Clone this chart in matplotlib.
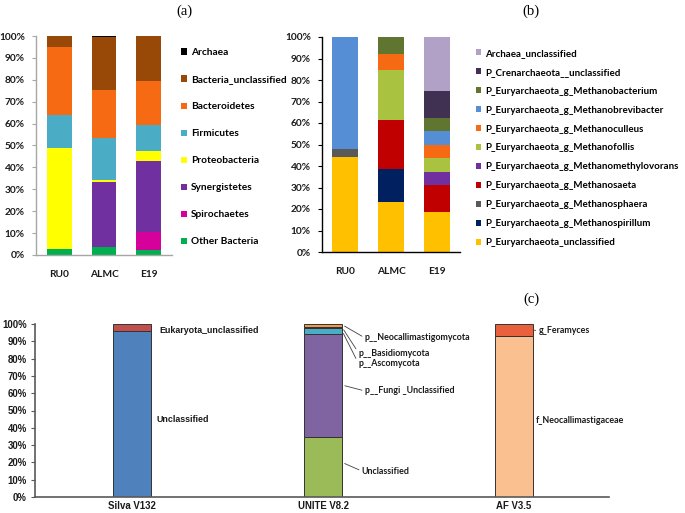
import numpy as np
import matplotlib
matplotlib.use("Agg")
import matplotlib.pyplot as plt
from matplotlib.ticker import FuncFormatter

# ---- panel (a): bacteria ----
samples = ["RU0", "ALMC", "E19"]
bac_names = ["Other Bacteria", "Spirochaetes", "Synergistetes", "Proteobacteria",
             "Firmicutes", "Bacteroidetes", "Bacteria_unclassified", "Archaea"]
bac_colors = ["#00B050", "#D6009A", "#7030A0", "#FFFF00",
              "#4BACC6", "#F56A12", "#984807", "#000000"]
bac_vals = [
    [2.7, 3.5, 2.4],     # Other Bacteria
    [0.0, 0.0, 8.1],     # Spirochaetes
    [0.0, 29.9, 32.2],   # Synergistetes
    [46.1, 0.9, 4.6],    # Proteobacteria
    [15.0, 19.3, 12.1],  # Firmicutes
    [31.0, 21.8, 20.1],  # Bacteroidetes
    [5.2, 24.3, 20.5],   # Bacteria_unclassified
    [0.0, 0.3, 0.0],     # Archaea
]

# ---- panel (b): archaea ----
arc_names = ["P_Euryarchaeota_unclassified", "P_Euryarchaeota_g_Methanospirillum",
             "P_Euryarchaeota_g_Methanosphaera", "P_Euryarchaeota_g_Methanosaeta",
             "P_Euryarchaeota_g_Methanomethylovorans", "P_Euryarchaeota_g_Methanofollis",
             "P_Euryarchaeota_g_Methanoculleus", "P_Euryarchaeota_g_Methanobrevibacter",
             "P_Euryarchaeota_g_Methanobacterium", "P_Crenarchaeota__unclassified",
             "Archaea_unclassified"]
arc_colors = ["#FFC000", "#002060", "#595959", "#C00000", "#7030A0", "#A9C23F",
              "#F56A12", "#558ED5", "#5F7530", "#403152", "#B2A1C7"]
arc_vals = [
    [44.0, 23.1, 18.6],
    [0.0, 15.3, 0.0],
    [3.9, 0.0, 0.0],
    [0.0, 23.2, 12.4],
    [0.0, 0.0, 6.2],
    [0.0, 22.9, 6.4],
    [0.0, 7.6, 6.2],
    [52.1, 0.0, 6.3],
    [0.0, 7.9, 6.2],
    [0.0, 0.0, 12.7],
    [0.0, 0.0, 25.0],
]

# ---- panel (c): eukaryotes / fungi by database ----
dbs = ["Silva V132", "UNITE V8.2", "AF V3.5"]
silva_names = ["Unclassified", "Eukaryota_unclassified"]
silva_vals = [95.8, 4.2]
silva_colors = ["#4F81BD", "#C0504D"]
unite_names = ["Unclassified", "p__Fungi _Unclassified", "p__Ascomycota",
               "p__Basidiomycota", "p__Neocallimastigomycota"]
unite_vals = [34.7, 59.5, 3.5, 0.6, 1.7]
unite_colors = ["#9BBB59", "#8064A2", "#4BACC6", "#1F497D", "#F79646"]
af_names = ["f_Neocallimastigaceae", "g_Feramyces"]
af_vals = [93.2, 6.8]
af_colors = ["#FAC090", "#E8603C"]

W, H = 685, 513
fig = plt.figure(figsize=(W / 100, H / 100), dpi=100)

def box(x0, y0, x1, y1):
    return [x0 / W, 1 - y1 / H, (x1 - x0) / W, (y1 - y0) / H]

ab_font = "Lato"
pct = FuncFormatter(lambda v, p: f"{int(v)}%")


def stacked(ax, vals, colors, width, **kw):
    bottom = np.zeros(len(vals[0]))
    bars = []
    for v, c in zip(vals, colors):
        b = ax.bar(np.arange(len(v)), v, width, bottom=bottom, color=c, **kw)
        bars.append(b)
        bottom += np.array(v)
    return bars


def style_ab(ax, spine_col):
    ax.set_ylim(0, 100)
    ax.set_yticks(np.arange(0, 101, 10))
    ax.yaxis.set_major_formatter(pct)
    for s in ["top", "right"]:
        ax.spines[s].set_visible(False)
    for s in ["left", "bottom"]:
        ax.spines[s].set_color(spine_col)
        ax.spines[s].set_linewidth(1.0)
    ax.tick_params(axis="y", length=3, color=spine_col, pad=5)
    ax.tick_params(axis="x", length=0, pad=11)
    for lab in ax.get_xticklabels() + ax.get_yticklabels():
        lab.set_fontfamily(ab_font)
        lab.set_fontweight("bold")
        lab.set_fontsize(7.3)
        lab.set_color("#1a1a1a")


# panel (a)
ax_a = fig.add_axes(box(36, 36, 172, 255))
bars_a = stacked(ax_a, bac_vals, bac_colors, 0.56)
ax_a.set_xlim(-0.53, 2.53)
ax_a.set_xticks(range(3))
ax_a.set_xticklabels(samples)
style_ab(ax_a, "#A6A6A6")
leg_a = fig.legend([b[0] for b in bars_a][::-1], bac_names[::-1],
                   loc="upper left", bbox_to_anchor=(176 / W, 1 - 43 / H),
                   frameon=False, handlelength=0.55, handleheight=0.55,
                   handletextpad=0.45, labelspacing=1.78, borderpad=0,
                   prop={"family": ab_font, "weight": "bold", "size": 7.3})

# panel (b)
ax_b = fig.add_axes(box(322, 37, 460, 252))
bars_b = stacked(ax_b, arc_vals, arc_colors, 0.565)
ax_b.set_xlim(-0.5, 2.5)
ax_b.set_xticks(range(3))
ax_b.set_xticklabels(samples)
style_ab(ax_b, "#000000")
leg_b = fig.legend([b[0] for b in bars_b][::-1], arc_names[::-1],
                   loc="upper left", bbox_to_anchor=(471 / W, 1 - 44 / H),
                   frameon=False, handlelength=0.55, handleheight=0.55,
                   handletextpad=0.4, labelspacing=1.02, borderpad=0,
                   prop={"family": ab_font, "weight": "bold", "size": 7.0})

# panel (c)
ax_c = fig.add_axes(box(35, 324, 609, 497))
wc = 0.2
for i, (vals, cols) in enumerate([(silva_vals, silva_colors),
                                  (unite_vals, unite_colors),
                                  (af_vals, af_colors)]):
    bottom = 0.0
    for v, c in zip(vals, cols):
        ax_c.bar(i, v, wc, bottom=bottom, color=c, edgecolor="#333333", linewidth=0.7)
        bottom += v
ax_c.set_xlim(-0.511, 2.5)
ax_c.set_ylim(0, 100)
ax_c.set_xticks(range(3))
ax_c.set_xticklabels(dbs)
ax_c.set_yticks(np.arange(0, 101, 10))
ax_c.yaxis.set_major_formatter(pct)
for s in ["top", "right"]:
    ax_c.spines[s].set_visible(False)
for s in ["left", "bottom"]:
    ax_c.spines[s].set_color("#595959")
    ax_c.spines[s].set_linewidth(1.2)
ax_c.tick_params(axis="y", length=3, color="#595959", pad=3)
ax_c.tick_params(axis="x", length=0, pad=3)
for lab in ax_c.get_xticklabels() + ax_c.get_yticklabels():
    lab.set_fontfamily("Liberation Sans")
    lab.set_fontweight("bold")
    lab.set_fontsize(6.9)
    lab.set_color("#1a1a1a")

tx = dict(fontsize=6.4, fontweight="bold", va="center", ha="left", color="#1a1a1a")
ax_c.text(0.14, 96.3, silva_names[1], family="Liberation Sans", **tx)
ax_c.text(0.128, 45, silva_names[0], family="Liberation Sans", **tx)

line = dict(arrowstyle="-", color="#404040", lw=0.6, shrinkA=0, shrinkB=2,
            relpos=(0, 0.5))
cum = np.cumsum(unite_vals)
mids = cum - np.array(unite_vals) / 2
unite_text = [(1.203, 15.0, 20.0), (1.219, 61.3, 64.7), (1.187, 76.9, mids[2]),
              (1.187, 83.2, cum[3] - 0.3), (1.219, 92.0, 99.6)]
for name, (x, y, ya) in zip(unite_names, unite_text):
    ax_c.annotate(name, xy=(1.1, ya), xytext=(x, y), family=ab_font,
                  arrowprops=line, **tx)
ax_c.annotate(af_names[1], xy=(2.1, 96.6), xytext=(2.13, 96.0), family=ab_font,
              arrowprops=dict(line, shrinkA=0, shrinkB=1), **tx)
ax_c.text(2.115, 44.5, af_names[0], family=ab_font, **tx)

# panel letters
for lbl, x, y in [("(a)", 184, 11), ("(b)", 531, 11), ("(c)", 531, 299)]:
    fig.text(x / W, 1 - y / H, lbl, family="Liberation Serif", fontsize=10.5,
             ha="center", va="center")

fig.savefig("out.png", dpi=100)
